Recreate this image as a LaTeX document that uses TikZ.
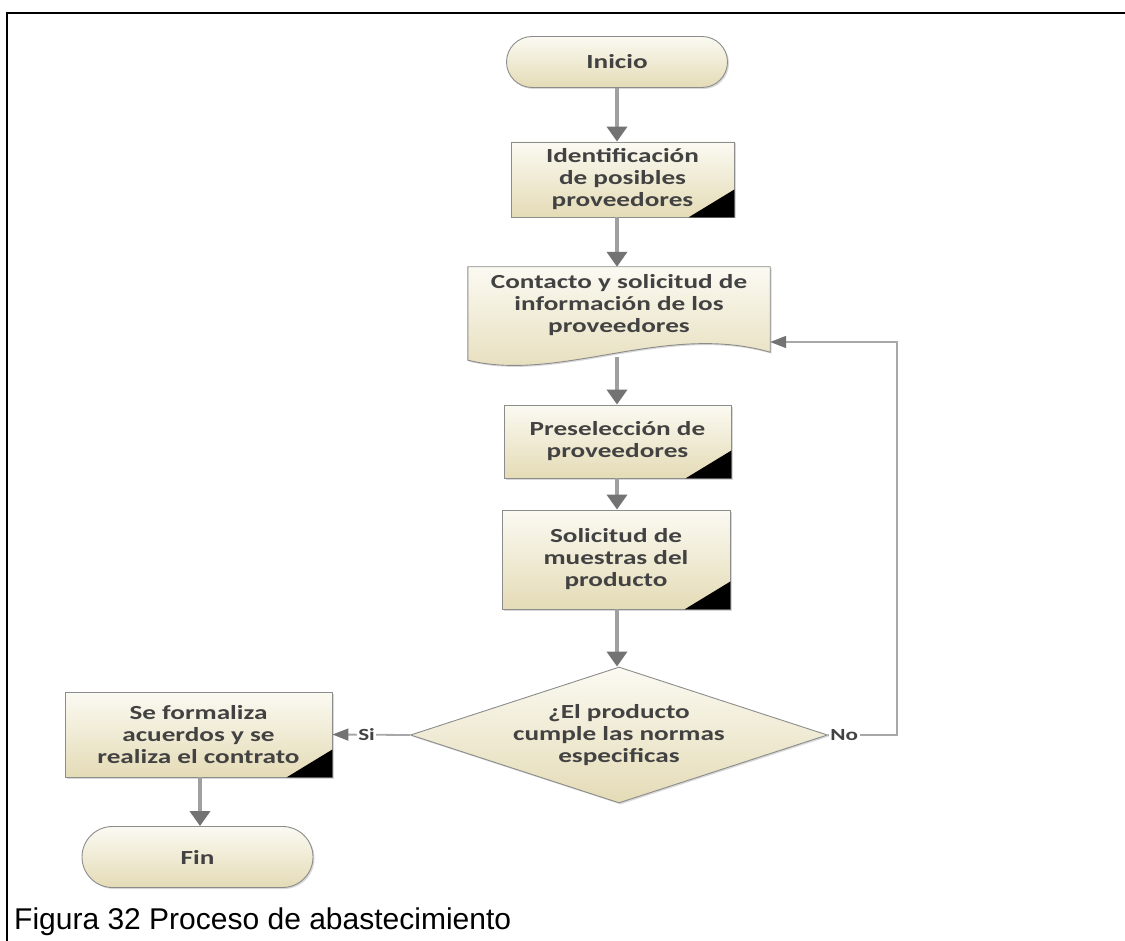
\documentclass[tikz,border=0pt]{standalone}
\usepackage{fontspec}
\usetikzlibrary{arrows.meta,shapes.geometric,shapes.misc,shadows,calc,backgrounds}
\newfontfamily\boxfont{Carlito}[FakeStretch=1.36]
\newfontfamily\capfont{Liberation Sans}
\definecolor{boxtop}{HTML}{FBFAF2}
\definecolor{boxbot}{HTML}{E4DBB6}
\definecolor{edge}{HTML}{8C8C8C}
\definecolor{txt}{HTML}{424242}
\definecolor{flowline}{HTML}{A0A0A0}
\definecolor{thinline}{HTML}{A8A8A8}
\definecolor{flowhead}{HTML}{737373}

\tikzset{
  boxtext/.style={font=\boxfont\bfseries\fontsize{20}{22}\selectfont, text=txt, align=center},
  shadebox/.style={top color=boxtop, bottom color=boxbot, draw=edge, line width=0.9pt,
    drop shadow={shadow xshift=1.5pt, shadow yshift=-1.5pt, opacity=.3}},
  procbox/.style={boxtext, shadebox, rectangle, inner sep=0pt},
  terminal/.style={boxtext, shadebox, rounded rectangle, inner sep=0pt},
  decision/.style={boxtext, shadebox, diamond, aspect=3.07, inner sep=0pt,
    minimum width=417pt, minimum height=136pt},
  flow/.style={draw=flowline, line width=4pt,
    -{Triangle[width=20pt,length=15pt,color=flowhead]}},
  backflow/.style={draw=thinline, line width=1.8pt,
    -{Triangle[width=12pt,length=16pt,color=flowhead]}},
  branchlabel/.style={font=\boxfont\bfseries\fontsize{17}{18}\selectfont, text=txt,
    fill=white, inner sep=1.5pt}
}
\newcommand\cornermark[1]{\fill[black] (#1.south east) -- ++(-46,0) -- ++(46,-28) -- cycle;}

\begin{document}
\begin{tikzpicture}[x=1pt,y=-1pt]
  \useasboundingbox (0,0) rectangle (1125,941);
  \begin{scope}[on background layer]
    \fill[white] (0,0) rectangle (1125,941);
  \end{scope}

  % page frame (top and left rules)
  \draw[line width=2pt] (1125,13) -- (7,13) -- (7,942);

  % process steps
  \node[terminal, minimum width=221pt, minimum height=51pt] (ini) at (617,62) {Inicio};
  \node[procbox, minimum width=223pt, minimum height=75pt] (b1) at (622.5,179.5)
    {Identificación\\de posibles\\proveedores};
  \node[boxtext, inner sep=0pt, minimum width=302pt, minimum height=76pt] (b2) at (619,305)
    {Contacto y solicitud de\\información de los\\proveedores};
  % document symbol with a wavy lower edge, behind its text
  \begin{scope}[on background layer]
    \path[shadebox] (b2.north west) -- (b2.north east) -- ($(b2.south east)+(0,9)$)
      .. controls (665,322) and (560,383) .. ($(b2.south west)+(0,17)$) -- cycle;
  \end{scope}
  \coordinate (b2out) at (617,357);
  \coordinate (b2in) at ($(b2.east)+(0,37)$);
  \node[procbox, minimum width=227pt, minimum height=73pt] (b3) at (617.5,441.5)
    {Preselección de\\proveedores};
  \node[procbox, minimum width=228pt, minimum height=99pt] (b4) at (616,559.5)
    {Solicitud de\\muestras del\\producto};
  \node[decision] (dec) at (619,735)
    {¿El producto\\cumple las normas\\especificas};
  \node[procbox, minimum width=267pt, minimum height=85pt] (b5) at (198.5,734.5)
    {Se formaliza\\acuerdos y se\\realiza el contrato};
  \node[terminal, minimum width=231pt, minimum height=61pt] (fin) at (197.5,857) {Fin};

  \cornermark{b1}
  \cornermark{b3}
  \cornermark{b4}
  \cornermark{b5}

  % main flow
  \draw[flow] (ini.south) -- (ini.south |- b1.north);
  \draw[flow] (b1.south -| ini.south) -- (b2.north -| ini.south);
  \draw[flow] (b2out) -- (b2out |- b3.north);
  \draw[flow] (b3.south -| ini.south) -- (b4.north -| ini.south);
  \draw[flow] (b4.south -| ini.south) -- (dec.north -| ini.south);
  \draw[flow] (b5.south -| 200,0) -- (fin.north -| 200,0);

  % decision branches
  \coordinate (turn) at (897,735);
  \draw[backflow] (dec.east) node[branchlabel, anchor=west] (no) {No} -- (turn) |- (b2in);
  \draw[backflow] (dec.west) -- node[branchlabel, pos=0.56] (si) {Si} (b5.east);

  % caption
  \node[anchor=base west, inner sep=0pt, font=\capfont\fontsize{30}{36}\selectfont] (cap)
    at (14,929) {Figura 32 Proceso de abastecimiento};
\end{tikzpicture}
\end{document}
